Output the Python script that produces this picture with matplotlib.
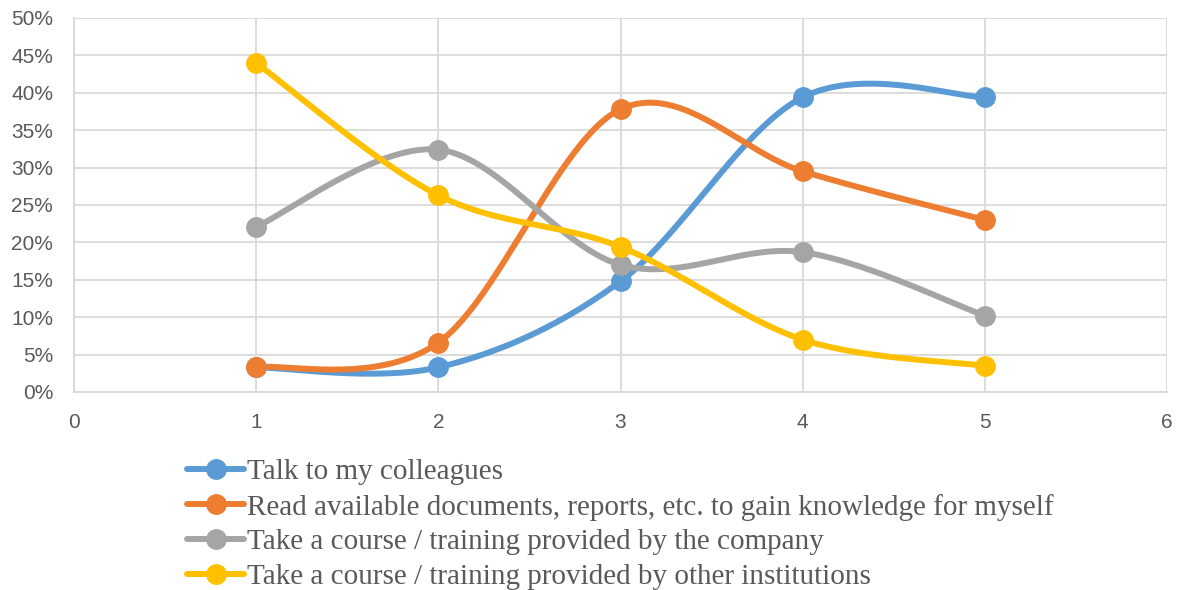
import numpy as np
import matplotlib
matplotlib.use("Agg")
import matplotlib.pyplot as plt
from matplotlib.lines import Line2D

x_vals = [1, 2, 3, 4, 5]
talk = [3.3, 3.3, 14.8, 39.4, 39.4]
read = [3.3, 6.6, 37.8, 29.5, 23.0]
course_company = [22.1, 32.4, 17.0, 18.7, 10.2]
course_other = [44.0, 26.3, 19.4, 7.0, 3.5]

labels = [
    "Talk to my colleagues",
    "Read available documents, reports, etc. to gain knowledge for myself",
    "Take a course / training provided by the company",
    "Take a course / training provided by other institutions",
]
colors = ["#5B9BD5", "#ED7D31", "#A5A5A5", "#FFC000"]
x_ticks = [0, 1, 2, 3, 4, 5, 6]
y_ticks = [0, 5, 10, 15, 20, 25, 30, 35, 40, 45, 50]


def smooth(xs, ys, n=60):
    xs = np.asarray(xs, float)
    ys = np.asarray(ys, float)
    px = np.concatenate([[xs[0]], xs, [xs[-1]]])
    py = np.concatenate([[ys[0]], ys, [ys[-1]]])
    outx, outy = [], []
    t = np.linspace(0, 1, n)
    for i in range(1, len(px) - 2):
        p0 = np.array([px[i], py[i]])
        p3 = np.array([px[i + 1], py[i + 1]])
        c1 = p0 + (np.array([px[i + 1], py[i + 1]]) - np.array([px[i - 1], py[i - 1]])) / 6
        c2 = p3 - (np.array([px[i + 2], py[i + 2]]) - np.array([px[i], py[i]])) / 6
        b = ((1 - t) ** 3)[:, None] * p0 + (3 * (1 - t) ** 2 * t)[:, None] * c1 + \
            (3 * (1 - t) * t ** 2)[:, None] * c2 + (t ** 3)[:, None] * p3
        outx.extend(b[:, 0])
        outy.extend(b[:, 1])
    return np.array(outx), np.array(outy)


fig = plt.figure(figsize=(11.8, 5.9), dpi=100)
ax = fig.add_axes([0.0627, 0.3356, 0.9263, 0.6339])

series = [talk, read, course_company, course_other]
handles = []
for ys, c, lab in zip(series, colors, labels):
    sx, sy = smooth(x_vals, ys)
    ax.plot(sx, sy, color=c, lw=4.3, solid_capstyle="round", zorder=3)
    ax.plot(x_vals, ys, linestyle="none", marker="o", markersize=14, color=c, zorder=4)
    handles.append(Line2D([0], [0], color=c, lw=4.3, marker="o", markersize=14,
                          solid_capstyle="round"))

ax.set_xlim(0, 6)
ax.set_ylim(0, 50)
ax.set_xticks(x_ticks)
ax.set_yticks(y_ticks)
ax.set_yticklabels([f"{v}%" for v in y_ticks])
ax.grid(True, color="#D9D9D9", lw=1.3, zorder=0)
ax.set_axisbelow(True)
for s in ["top", "right"]:
    ax.spines[s].set_visible(False)
for s in ["left", "bottom"]:
    ax.spines[s].set_color("#D9D9D9")
    ax.spines[s].set_linewidth(1.3)
ax.tick_params(length=0, labelsize=15, labelcolor="#595959")
ax.tick_params(axis="y", pad=15)
ax.tick_params(axis="x", pad=15)
for lbl in ax.get_xticklabels() + ax.get_yticklabels():
    lbl.set_fontfamily("Liberation Sans")

leg = fig.legend(handles, labels, loc="upper center", bbox_to_anchor=(0.526, 0.222),
                 frameon=False, prop={"family": "Liberation Serif", "size": 21},
                 handlelength=1.95, handletextpad=0.1, labelspacing=0.28,
                 labelcolor="#595959", borderaxespad=0, borderpad=0)

fig.savefig("out.png", dpi=100, facecolor="white")
